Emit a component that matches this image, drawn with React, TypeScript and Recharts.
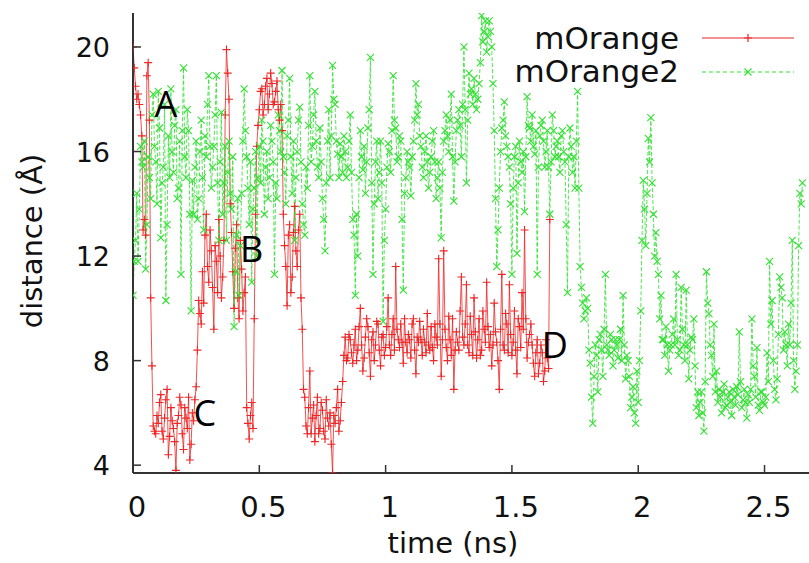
import React from 'react';
import { LineChart, Line, XAxis, YAxis, Label, Legend, ReferenceDot } from 'recharts';

// sampling step of both trajectories (ns); "Mid" arrays hold the frames in between
const STEP_NS = 0.01;

const xTicks = [0, 0.5, 1, 1.5, 2, 2.5];
const yTicks = [4, 8, 12, 16, 20];

// mOrange distance (Å) at t = 0.00, 0.01 .. 1.65 ns
const mOrange = [
  20.0, 18.5, 18.2, 17.4, 13.0, 12.8, 19.4, 10.4, 5.5, 5.2,
  5.6, 6.7, 5.0, 6.5, 4.4, 6.2, 5.4, 3.8, 5.9, 6.3,
  4.6, 5.8, 6.6, 4.8, 5.7, 7.0, 10.3, 9.4, 10.2, 13.6,
  11.0, 12.2, 9.2, 11.8, 13.4, 10.4, 12.6, 19.9, 18.0, 12.9,
  10.0, 13.2, 9.6, 11.5, 10.6, 6.2, 5.0, 6.4, 9.6, 16.2,
  17.6, 18.4, 17.8, 18.8, 18.2, 18.6, 17.9, 18.7, 17.2, 16.8,
  12.4, 10.1, 13.2, 11.2, 13.9, 11.6, 13.6, 9.2, 6.6, 5.2,
  7.6, 5.8, 4.9, 6.6, 5.4, 6.1, 5.0, 5.8, 6.0, 3.7,
  5.6, 6.9, 5.7, 7.2, 8.9, 8.1, 8.8, 7.9, 9.2, 8.4,
  10.0, 7.6, 8.9, 9.3, 7.4, 9.1, 8.6, 9.4, 7.8, 9.0,
  8.5, 10.4, 8.2, 9.6, 11.6, 8.8, 9.4, 7.9, 8.7, 9.0,
  8.1, 9.6, 7.5, 8.7, 8.8, 9.2, 8.3, 8.6, 9.3, 8.0,
  8.9, 11.9, 7.4, 12.2, 8.5, 9.7, 8.2, 6.9, 9.1, 8.4,
  11.2, 8.6, 10.9, 8.3, 9.0, 10.4, 8.1, 9.6, 8.4, 9.2,
  11.0, 8.5, 7.8, 10.2, 8.7, 6.9, 11.3, 8.4, 9.4, 10.9,
  8.2, 9.9, 7.5, 9.3, 10.6, 13.0, 8.1, 9.0, 8.6, 7.4,
  8.8, 7.9, 8.3, 7.6, 8.1, 13.4,
];

// mOrange distance (Å) at t = 0.005, 0.015 .. 1.645 ns
const mOrangeMid = [
  19.2, 18.0, 17.8, 16.6, 13.4, 18.9, 17.2, 7.8, 5.3, 5.9,
  6.4, 5.3, 5.8, 6.9, 5.1, 5.7, 4.9, 5.6, 6.6, 5.2,
  6.2, 5.4, 4.2, 6.0, 6.5, 8.4, 9.8, 11.4, 12.8, 11.6,
  13.0, 10.8, 12.4, 10.6, 12.0, 11.2, 17.4, 19.0, 14.0, 11.4,
  12.3, 10.4, 12.6, 9.9, 11.2, 5.6, 5.9, 5.4, 13.6, 17.0,
  18.3, 17.4, 18.5, 17.6, 19.0, 17.8, 18.3, 17.6, 17.8, 13.6,
  11.6, 12.8, 10.6, 12.9, 12.2, 13.0, 10.4, 6.9, 5.5, 6.2,
  5.2, 6.3, 5.9, 5.2, 6.4, 5.3, 6.5, 5.5, 4.8, 5.9,
  6.2, 5.3, 6.4, 8.2, 8.0, 9.0, 8.3, 8.6, 8.0, 9.3,
  8.6, 8.1, 9.6, 8.3, 8.8, 8.0, 9.5, 8.4, 8.9, 8.2,
  9.3, 8.6, 9.0, 8.4, 9.2, 8.5, 8.7, 9.6, 8.3, 8.8,
  9.4, 8.4, 8.9, 9.5, 8.2, 8.7, 9.8, 8.4, 8.5, 9.4,
  8.6, 9.4, 8.8, 9.2, 8.0, 8.8, 9.6, 8.4, 8.7, 9.9,
  8.9, 9.4, 8.6, 9.7, 8.2, 9.1, 8.8, 8.2, 9.9, 8.7,
  9.3, 9.0, 8.6, 9.1, 8.0, 9.2, 8.6, 9.8, 8.3, 9.0,
  8.7, 8.4, 9.6, 8.5, 9.2, 9.6, 8.7, 9.4, 7.9, 8.3,
  7.5, 8.6, 7.2, 8.8, 7.7,
];

// mOrange2 distance (Å) at t = 0.00, 0.01 .. 2.65 ns
const mOrange2 = [
  10.5, 12.6, 11.8, 16.2, 15.4, 11.5, 15.8, 14.2, 18.2, 15.6,
  18.3, 12.7, 15.4, 10.3, 16.6, 18.4, 15.2, 17.6, 14.6, 11.3,
  19.2, 15.0, 16.8, 9.9, 13.6, 16.4, 14.2, 17.2, 13.0, 15.8,
  18.9, 14.6, 16.2, 18.9, 12.6, 17.5, 14.8, 12.6, 16.4, 13.8,
  9.3, 12.8, 10.5, 14.4, 18.4, 15.8, 13.2, 11.0, 14.6, 12.0,
  16.2, 17.2, 13.6, 16.0, 15.0, 16.4, 11.3, 14.2, 16.8, 19.1,
  15.2, 16.6, 18.8, 14.4, 12.6, 16.0, 17.7, 14.0, 12.8, 14.6,
  18.9, 16.2, 18.3, 15.4, 16.9, 14.2, 12.2, 16.4, 15.0, 19.3,
  17.8, 15.9, 16.3, 15.2, 16.0, 15.4, 17.4, 13.4, 10.5, 12.0,
  16.8, 15.3, 14.4, 16.9, 19.6, 11.3, 15.6, 14.2, 16.4, 9.5,
  13.8, 16.3, 15.2, 18.9, 16.9, 15.8, 16.4, 10.7, 15.0, 15.6,
  14.3, 16.4, 18.6, 17.8, 16.2, 15.0, 16.6, 14.6, 15.8, 16.8,
  14.2, 15.6, 12.7, 16.4, 17.4, 16.0, 18.2, 14.1, 16.8, 17.6,
  15.8, 20.0, 14.8, 19.0, 18.4, 18.8, 17.6, 18.6, 21.2, 20.6,
  19.8, 21.0, 20.0, 16.8, 11.6, 14.6, 16.9, 17.9, 16.2, 15.4,
  11.3, 15.8, 12.1, 16.4, 15.2, 13.7, 18.1, 16.9, 17.4, 15.9,
  11.3, 16.6, 17.2, 15.4, 16.8, 13.6, 17.4, 15.8, 16.4, 15.2,
  16.8, 15.6, 10.6, 16.9, 15.2, 14.6, 18.3, 11.6, 10.2, 9.9,
  10.0, 7.9, 5.6, 8.6, 6.8, 9.0, 7.4, 11.3, 8.4, 9.0,
  7.8, 8.8, 8.1, 9.2, 10.5, 7.3, 8.0, 6.2, 7.0, 5.6,
  6.4, 9.9, 14.9, 12.4, 16.5, 17.3, 13.6, 12.9, 11.3, 10.5,
  8.8, 9.3, 7.6, 8.6, 9.6, 11.3, 8.2, 10.8, 8.6, 10.7,
  7.3, 8.9, 9.6, 6.2, 5.9, 6.8, 5.3, 11.4, 9.8, 8.2,
  9.4, 7.6, 6.9, 6.0, 7.1, 6.3, 6.8, 5.9, 6.6, 7.0,
  9.1, 6.2, 6.9, 5.8, 6.4, 9.6, 7.4, 8.5, 6.1, 6.8,
  6.3, 8.3, 11.8, 10.3, 6.9, 7.3, 11.2, 10.4, 9.1, 7.8,
  8.6, 12.6, 6.9, 8.6, 14.4, 14.8,
];

// mOrange2 distance (Å) at t = 0.005, 0.015 .. 2.645 ns
const mOrange2Mid = [
  11.8, 14.4, 13.8, 15.6, 16.4, 13.2, 15.0, 17.4, 16.2, 14.0,
  16.9, 14.8, 17.8, 13.2, 15.0, 16.0, 17.0, 14.2, 16.4, 16.8,
  15.8, 17.6, 13.6, 14.9, 15.4, 13.4, 16.0, 15.0, 16.6, 17.8,
  16.2, 15.4, 17.4, 14.8, 15.6, 13.6, 16.2, 15.2, 14.4, 15.8,
  11.4, 14.2, 12.4, 16.4, 16.8, 14.6, 15.6, 13.8, 16.0, 15.0,
  14.8, 16.4, 15.4, 14.2, 17.0, 15.6, 14.8, 17.4, 16.0, 15.8,
  14.0, 17.2, 15.8, 16.4, 15.0, 17.2, 15.6, 13.2, 15.4, 17.0,
  15.6, 17.4, 16.4, 15.0, 15.6, 13.4, 14.8, 17.6, 16.6, 18.0,
  16.4, 15.0, 15.8, 16.6, 15.0, 16.4, 15.2, 12.8, 13.6, 15.0,
  15.8, 16.2, 15.6, 17.6, 14.8, 14.0, 16.4, 15.2, 14.8, 12.6,
  15.4, 16.0, 16.8, 17.2, 15.6, 16.6, 13.4, 14.4, 16.0, 15.4,
  15.8, 17.2, 17.4, 16.6, 15.4, 16.0, 15.6, 15.2, 16.4, 15.6,
  15.0, 14.6, 15.2, 16.8, 16.6, 17.2, 15.8, 15.6, 17.2, 17.0,
  17.8, 17.6, 17.2, 18.2, 17.8, 18.2, 18.0, 19.4, 20.2, 21.0,
  20.4, 20.6, 18.6, 14.2, 13.0, 16.0, 17.2, 16.6, 15.8, 14.0,
  14.6, 16.2, 14.8, 15.6, 16.0, 15.8, 17.0, 16.4, 16.2, 16.8,
  15.4, 17.0, 16.4, 16.0, 15.4, 15.6, 16.8, 16.2, 15.8, 16.6,
  16.0, 13.2, 15.8, 16.2, 15.8, 16.4, 14.6, 10.8, 9.6, 10.4,
  8.4, 6.6, 7.4, 8.2, 8.8, 8.4, 9.2, 8.6, 8.2, 8.8,
  8.4, 8.6, 8.8, 8.0, 8.6, 8.2, 7.4, 6.6, 6.0, 7.6,
  8.0, 12.6, 13.8, 14.4, 15.6, 14.8, 12.0, 11.8, 9.6, 8.8,
  8.2, 8.6, 8.4, 9.0, 8.6, 8.8, 8.4, 9.2, 8.0, 8.6,
  8.4, 8.8, 7.8, 6.8, 6.4, 6.0, 7.2, 10.2, 8.6, 7.4,
  6.8, 6.4, 6.6, 6.8, 6.2, 6.6, 6.4, 6.9, 6.3, 6.7,
  7.2, 6.5, 6.4, 6.7, 6.9, 7.8, 6.6, 6.3, 6.8, 6.4,
  6.6, 7.2, 9.4, 8.0, 6.5, 9.0, 10.8, 8.4, 8.6, 9.4,
  10.2, 8.0, 7.6, 12.4, 14.0,
];

// state labels placed in data coordinates (time ns, distance Å)
const annotationNames = ['A', 'B', 'C', 'D'];
const annotationTimes = [0.13, 0.47, 0.284, 1.67];
const annotationDists = [17.8, 12.25, 6.0, 8.6];

// interleave the whole-step and half-step frames in time order
const toSeries = (vals: number[], mids: number[]) => {
  const out: { time: number; distance: number }[] = [];
  vals.forEach((d, i) => {
    out.push({ time: Math.round(i * STEP_NS * 1000) / 1000, distance: d });
    if (i < mids.length) {
      out.push({ time: Math.round((i + 0.5) * STEP_NS * 1000) / 1000, distance: mids[i] });
    }
  });
  return out;
};

const FONT = '"DejaVu Sans", sans-serif';
const INK = '#111';
const AXIS = '#333';
const RED = '#ee2626';
const GREEN = '#33e033';

const PlusDot = (props: any) => {
  const { cx, cy, index } = props;
  if (cx == null || cy == null) return <g key={`p${index}`} />;
  return (
    <path
      key={`p${index}`}
      d={`M${cx - 4},${cy}H${cx + 4}M${cx},${cy - 4}V${cy + 4}`}
      stroke={RED}
      strokeWidth={1.1}
      fill="none"
    />
  );
};

const CrossDot = (props: any) => {
  const { cx, cy, index } = props;
  if (cx == null || cy == null) return <g key={`x${index}`} />;
  return (
    <path
      key={`x${index}`}
      d={`M${cx - 3.5},${cy - 3.5}L${cx + 3.5},${cy + 3.5}M${cx - 3.5},${cy + 3.5}L${cx + 3.5},${cy - 3.5}`}
      stroke={GREEN}
      strokeWidth={1.1}
      fill="none"
    />
  );
};

const LeftTick = ({ x, y, payload }: any) => (
  <g>
    <line x1={x} x2={x + 8} y1={y} y2={y} stroke={AXIS} strokeWidth={1.5} />
    <text x={x - 23} y={y + 10} textAnchor="end" fontFamily={FONT} fontSize={27} fill={INK}>
      {payload.value}
    </text>
  </g>
);

const RightTick = ({ x, y }: any) => (
  <line x1={x} x2={x - 8} y1={y} y2={y} stroke={AXIS} strokeWidth={1.5} />
);

const BottomTick = ({ x, y, payload }: any) => (
  <g>
    <line x1={x} x2={x} y1={y} y2={y - 8} stroke={AXIS} strokeWidth={1.5} />
    <text x={x + 4} y={y + 44} textAnchor="middle" fontFamily={FONT} fontSize={29} fill={INK}>
      {payload.value}
    </text>
  </g>
);

const TopTick = ({ x, y }: any) => (
  <line x1={x} x2={x} y1={y} y2={y + 8} stroke={AXIS} strokeWidth={1.5} />
);

const renderLegend = () => (
  <svg width={809} height={100}>
    <text x={679} y={49} textAnchor="end" fontFamily={FONT} fontSize={31} fill={INK}>mOrange</text>
    <line x1={702} x2={794} y1={38} y2={38} stroke={RED} strokeWidth={1.2} />
    <path d="M744,38H752M748,34V42" stroke={RED} strokeWidth={1.2} />
    <text x={679} y={82} textAnchor="end" fontFamily={FONT} fontSize={31} fill={INK}>mOrange2</text>
    <line x1={702} x2={794} y1={72} y2={72} stroke={GREEN} strokeWidth={1.2} strokeDasharray="4 3" />
    <path d="M744.5,68.5L751.5,75.5M744.5,75.5L751.5,68.5" stroke={GREEN} strokeWidth={1.2} />
  </svg>
);

export default function App() {
  const redData = toSeries(mOrange, mOrangeMid);
  const greenData = toSeries(mOrange2, mOrange2Mid);
  const xDomain = [0, 2.68];
  const yDomain = [3.7, 21.3];

  return (
    <div style={{ position: 'absolute', left: 0, top: 0, width: 809, height: 563, overflow: 'hidden', background: '#fff' }}>
      <LineChart width={830} height={563} margin={{ top: 13, right: 20, bottom: 30, left: 0 }}>
        <XAxis
          xAxisId="bottom"
          type="number"
          dataKey="time"
          domain={xDomain}
          ticks={xTicks}
          allowDataOverflow
          height={60}
          tickSize={0}
          tickMargin={0}
          tickLine={false}
          tick={BottomTick}
          axisLine={{ stroke: AXIS, strokeWidth: 2 }}
        >
          <Label
            content={() => (
              <text x={453} y={553} textAnchor="middle" fontFamily={FONT} fontSize={29} fill={INK}>
                time (ns)
              </text>
            )}
          />
        </XAxis>
        <XAxis
          xAxisId="top"
          orientation="top"
          type="number"
          domain={xDomain}
          ticks={xTicks}
          allowDataOverflow
          height={0}
          tickSize={0}
          tickMargin={0}
          tickLine={false}
          tick={TopTick}
          axisLine={{ stroke: AXIS, strokeWidth: 2 }}
        />
        <YAxis
          yAxisId="left"
          type="number"
          domain={yDomain}
          ticks={yTicks}
          allowDataOverflow
          width={133}
          tickSize={0}
          tickMargin={0}
          tickLine={false}
          tick={LeftTick}
          axisLine={{ stroke: AXIS, strokeWidth: 2 }}
        >
          <Label
            content={() => (
              <text
                x={42}
                y={241}
                transform="rotate(-90 42 241)"
                textAnchor="middle"
                fontFamily={FONT}
                fontSize={29}
                fill={INK}
              >
                distance (Å)
              </text>
            )}
          />
        </YAxis>
        <YAxis
          yAxisId="right"
          orientation="right"
          type="number"
          domain={yDomain}
          ticks={yTicks}
          allowDataOverflow
          width={0}
          tickSize={0}
          tickMargin={0}
          tickLine={false}
          tick={RightTick}
          axisLine={{ stroke: AXIS, strokeWidth: 2 }}
        />
        <Legend
          layout="horizontal"
          verticalAlign="middle"
          align="center"
          wrapperStyle={{ position: 'absolute', left: 0, top: 0, width: 809, height: 100, pointerEvents: 'none' }}
          content={renderLegend}
        />
        <Line
          name="mOrange"
          data={redData}
          dataKey="distance"
          xAxisId="bottom"
          yAxisId="left"
          type="linear"
          stroke={RED}
          strokeOpacity={0.8}
          strokeWidth={1}
          dot={PlusDot}
          activeDot={false}
          isAnimationActive={false}
        />
        <Line
          name="mOrange2"
          data={greenData}
          dataKey="distance"
          xAxisId="bottom"
          yAxisId="left"
          type="linear"
          stroke={GREEN}
          strokeOpacity={0.85}
          strokeWidth={1}
          strokeDasharray="4 2"
          dot={CrossDot}
          activeDot={false}
          isAnimationActive={false}
        />
        {annotationNames.map((name, i) => (
          <ReferenceDot
            key={name}
            xAxisId="bottom"
            yAxisId="left"
            x={annotationTimes[i]}
            y={annotationDists[i]}
            r={0}
            fill="none"
            stroke="none"
            label={{ value: name, position: 'center', fontSize: 36, fontFamily: '"Open Sans", sans-serif', fill: '#000' }}
          />
        ))}
      </LineChart>
    </div>
  );
}
